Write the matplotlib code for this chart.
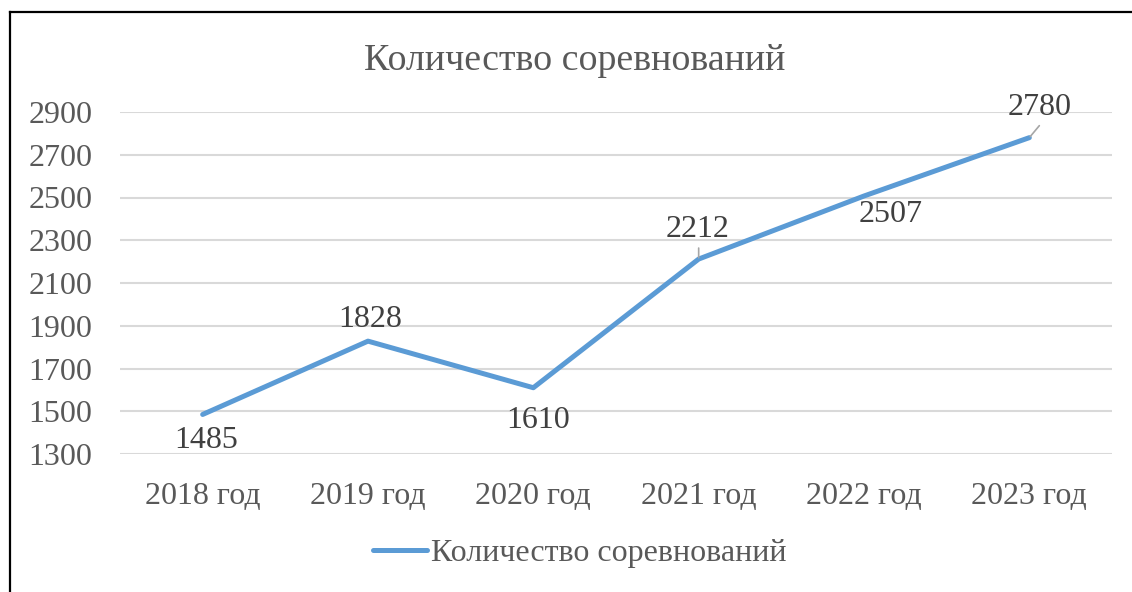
# Line chart: number of competitions per year
import matplotlib.pyplot as plt
from matplotlib.lines import Line2D

# data
years = ["2018 год", "2019 год", "2020 год", "2021 год", "2022 год", "2023 год"]
counts = [1485, 1828, 1610, 2212, 2507, 2780]
y_ticks = [1300, 1500, 1700, 1900, 2100, 2300, 2500, 2700, 2900]
series_name = "Количество соревнований"
chart_title = "Количество соревнований"

# label offsets in pixels (dx, dy) and whether a leader line is drawn
label_offsets = [(4, -34), (2, 14), (5, -40), (-1, 22), (27, -26), (10, 23)]
leaders = [False, False, False, True, False, True]

plt.rcParams['font.family'] = ['Liberation Serif', 'DejaVu Serif']

W, H = 1132, 592
fig = plt.figure(figsize=(W / 100, H / 100), dpi=100)
ax = fig.add_axes([120 / W, 1 - 454 / H, 992 / W, 342 / H])

x = list(range(len(years)))
ax.plot(x, counts, color='#5B9BD5', linewidth=3.6, solid_capstyle='round',
        solid_joinstyle='round', label=series_name, zorder=3)

ax.set_xlim(-0.5, len(years) - 0.5)
ax.set_ylim(y_ticks[0], y_ticks[-1])
ax.set_yticks(y_ticks)
ax.set_xticks(x)
ax.set_xticklabels(years)
ax.tick_params(axis='both', length=0, labelsize=23, labelcolor='#595959')
ax.tick_params(axis='y', pad=20)
ax.tick_params(axis='x', pad=20)
ax.grid(axis='y', color='#D9D9D9', linewidth=1.5)
ax.set_axisbelow(True)
for s in ax.spines.values():
    s.set_visible(False)

# data labels
for i, v in enumerate(counts):
    dx, dy = label_offsets[i]
    ax.annotate(str(v), (i, v), xytext=(dx, dy), textcoords='offset pixels',
                ha='center', va='baseline', fontsize=23, color='#404040', zorder=4)
    if leaders[i]:
        if dx > 5:
            ax.annotate('', (i, v), xytext=(dx, 12), textcoords='offset pixels',
                        arrowprops=dict(arrowstyle='-', color='#A6A6A6', lw=1.2,
                                        shrinkA=0, shrinkB=1))
        else:
            ax.annotate('', (i, v), xytext=(0, 11), textcoords='offset pixels',
                        arrowprops=dict(arrowstyle='-', color='#A6A6A6', lw=1.2,
                                        shrinkA=0, shrinkB=1))

fig.text(575 / W, 1 - 70 / H, chart_title, ha='center', va='baseline',
         fontsize=27.3, color='#595959')

leg = fig.legend(loc='center', bbox_to_anchor=(580 / W, 1 - 553 / H), frameon=False,
                 fontsize=23, handlelength=1.7, handletextpad=0.12)
for t in leg.get_texts():
    t.set_color('#595959')

# outer chart border (left and top edges visible)
fig.add_artist(Line2D([9.5 / W, 9.5 / W], [0, 1 - 12 / H], color='black', lw=1.6,
                      transform=fig.transFigure))
fig.add_artist(Line2D([9.5 / W, 1], [1 - 12 / H, 1 - 12 / H], color='black', lw=1.6,
                      transform=fig.transFigure))

fig.savefig("out.png", dpi=100)
